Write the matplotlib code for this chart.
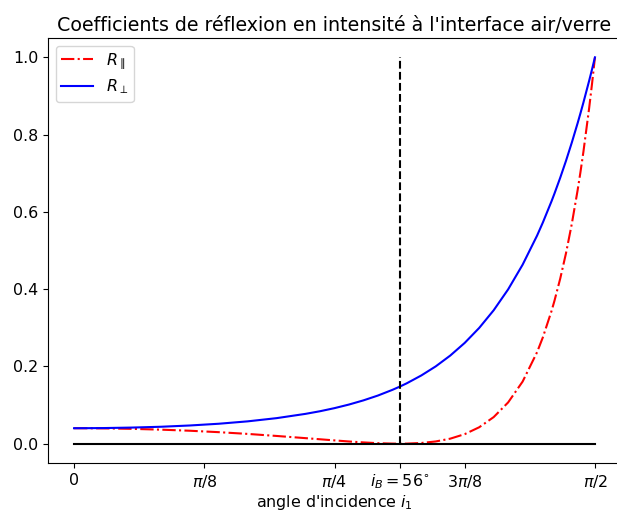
import numpy as np
import matplotlib
matplotlib.use("Agg")
import matplotlib.pyplot as plt

# angles of incidence (degrees) at which values were read
angles_deg = [0, 5, 10, 15, 20, 25, 30, 35, 40, 42.5, 45, 47.5, 50, 52.5, 55, 56.31,
              57.5, 60, 62.5, 65, 67.5, 70, 72.5, 75, 77.5, 80, 81, 82.5, 83, 84,
              85, 86, 87, 87.5, 88, 89, 89.5, 90]
R_par = [0.0400, 0.0396, 0.0384, 0.0363, 0.0335, 0.0298, 0.0253, 0.0200, 0.0143,
         0.0114, 0.0085, 0.0057, 0.0033, 0.0013, 0.0002, 0.0,
         0.0002, 0.0018, 0.0058, 0.0130, 0.0247, 0.0425, 0.0688, 0.1068, 0.1607,
         0.2368, 0.2753, 0.3436, 0.3696, 0.4273,
         0.4932, 0.5689, 0.6555, 0.7034, 0.7548, 0.8689, 0.9322, 1.0]
R_perp = [0.0400, 0.0404, 0.0417, 0.0438, 0.0471, 0.0516, 0.0578, 0.0661, 0.0772,
          0.0840, 0.0920, 0.1013, 0.1121, 0.1246, 0.1393, 0.1479,
          0.1564, 0.1766, 0.2002, 0.2281, 0.2609, 0.2996, 0.3453, 0.3994, 0.4632,
          0.5386, 0.5725, 0.6276, 0.6472, 0.6884,
          0.7323, 0.7793, 0.8293, 0.8555, 0.8826, 0.9395, 0.9692, 1.0]
brewster_deg = 56.31

tick_labels = ["0", r"$\pi/8$", r"$\pi/4$", r"$i_B=56^{\circ}$", r"$3\pi/8$", r"$\pi/2$"]

x = np.deg2rad(angles_deg)
xb = np.deg2rad(brewster_deg)

plt.rcParams['font.size'] = 11.4
DPI = 100
fig = plt.figure(figsize=(617/DPI, 513/DPI), dpi=DPI)
ax = fig.add_axes([48/617, 50/513, 573/617, 425/513])

ax.plot(x, R_par, 'r-.', lw=1.5, label=r"$R_\parallel$")
ax.plot(x, R_perp, 'b-', lw=1.5, label=r"$R_\perp$")
ax.plot([0, np.pi/2], [0, 0], 'k-', lw=1.5)
ax.plot([xb, xb], [0, 1], 'k--', lw=1.5)

ax.set_xticks([0, np.pi/8, np.pi/4, xb, 3*np.pi/8, np.pi/2])
ax.set_xticklabels(tick_labels)
ax.set_xlabel(r"angle d'incidence $i_1$", labelpad=1.0)
ax.set_title("Coefficients de réflexion en intensité à l'interface air/verre", pad=5)
ax.legend(loc="upper left", labelspacing=0.4, borderpad=0.35)

fig.savefig("out.png", dpi=DPI)
